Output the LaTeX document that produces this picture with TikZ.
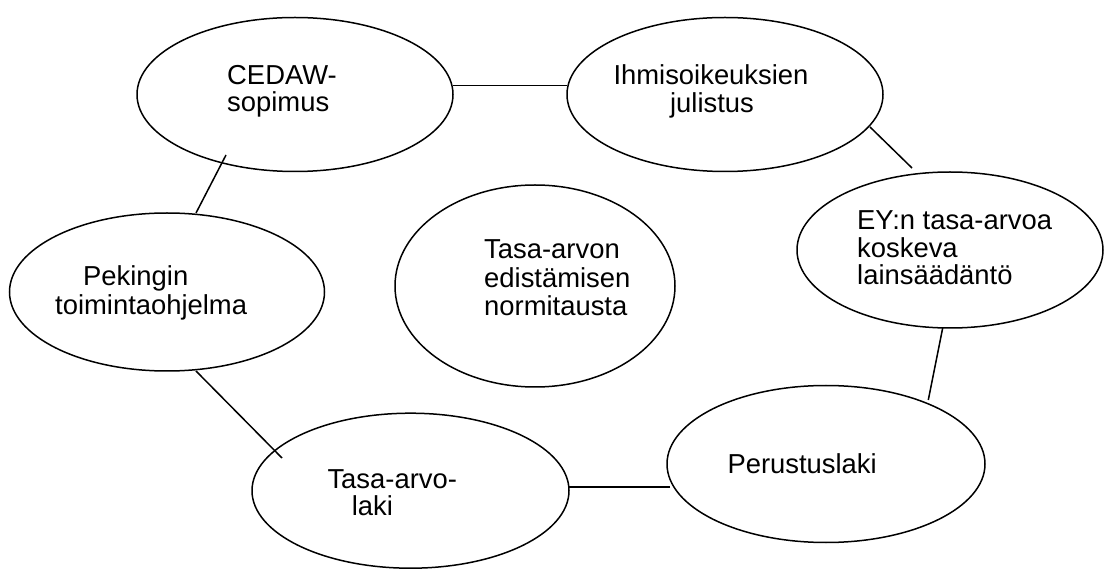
\documentclass[tikz,border=0pt]{standalone}
\usepackage{fontspec}
\setmainfont{Liberation Sans}
\usetikzlibrary{shapes.geometric}
\begin{document}
\begin{tikzpicture}[x=1pt,y=-1pt,
  oval/.style n args={2}{draw,ellipse,line width=1.5pt,inner sep=0pt,outer sep=0pt,minimum width=#1,minimum height=#2},
  lbl/.style={anchor=base west,inner sep=0pt,font=\fontsize{27.4}{29}\selectfont},
  clbl/.style={anchor=base,inner sep=0pt,font=\fontsize{27.4}{29}\selectfont},
  link/.style={line width=1.5pt}]
\fill[white] (0,0) rectangle (1104,569);
\useasboundingbox (0,0) rectangle (1104,569);
% ellipses
\node[oval={316pt}{154pt}] (cedaw) at (295,94.5) {};
\node[oval={316pt}{154pt}] (ihmis) at (725,94.5) {};
\node[oval={306pt}{156pt}] (ey) at (950,250) {};
\node[oval={315pt}{158pt}] (peking) at (167,292) {};
\node[oval={280pt}{202pt}] (norm) at (535,286) {};
\node[oval={317pt}{155pt}] (tasa) at (410.5,490.7) {};
\node[oval={318pt}{157pt}] (perus) at (826,464) {};
% texts
\node[lbl] (cedaw-t1) at (227,85) {CEDAW-};
\node[lbl] (cedaw-t2) at (227,112) {sopimus};
\node[clbl] (ihmis-t1) at (711,85) {Ihmisoikeuksien};
\node[clbl] (ihmis-t2) at (712,113) {julistus};
\node[lbl] (ey-t1) at (857,230) {EY:n tasa-arvoa};
\node[lbl] (ey-t2) at (857,257.5) {koskeva};
\node[lbl] (ey-t3) at (857,285) {lainsäädäntö};
\node[lbl] (peking-t1) at (83,286) {Pekingin};
\node[lbl] (peking-t2) at (55,315) {toimintaohjelma};
\node[lbl] (norm-t1) at (484,258.3) {Tasa-arvon};
\node[lbl] (norm-t2) at (484,287.3) {edistämisen};
\node[lbl] (norm-t3) at (484,316) {normitausta};
\node[lbl] (tasa-t1) at (327.3,488.3) {Tasa-arvo-};
\node[lbl] (tasa-t2) at (351.7,515) {laki};
\node[lbl] (perus-t1) at (727.3,474) {Perustuslaki};
% connector ends
\coordinate (cedaw-e) at (453,85.7);
\coordinate (ihmis-w) at (567,85.7);
\coordinate (ihmis-se) at (870,127);
\coordinate (ey-nw) at (912,168);
\coordinate (ey-s) at (942.7,328);
\coordinate (perus-n) at (928.3,400);
\coordinate (perus-w) at (670,487);
\coordinate (tasa-e) at (569,487);
\coordinate (tasa-nw) at (282,458);
\coordinate (peking-se) at (196,371);
\coordinate (peking-n) at (196,213);
\coordinate (cedaw-sw) at (226,155);
% connectors
\draw[link] (cedaw-e) -- (ihmis-w);
\draw[link] (ihmis-se) -- (ey-nw);
\draw[link] (ey-s) -- (perus-n);
\draw[link] (perus-w) -- (tasa-e);
\draw[link] (tasa-nw) -- (peking-se);
\draw[link] (peking-n) -- (cedaw-sw);
\end{tikzpicture}
\end{document}
